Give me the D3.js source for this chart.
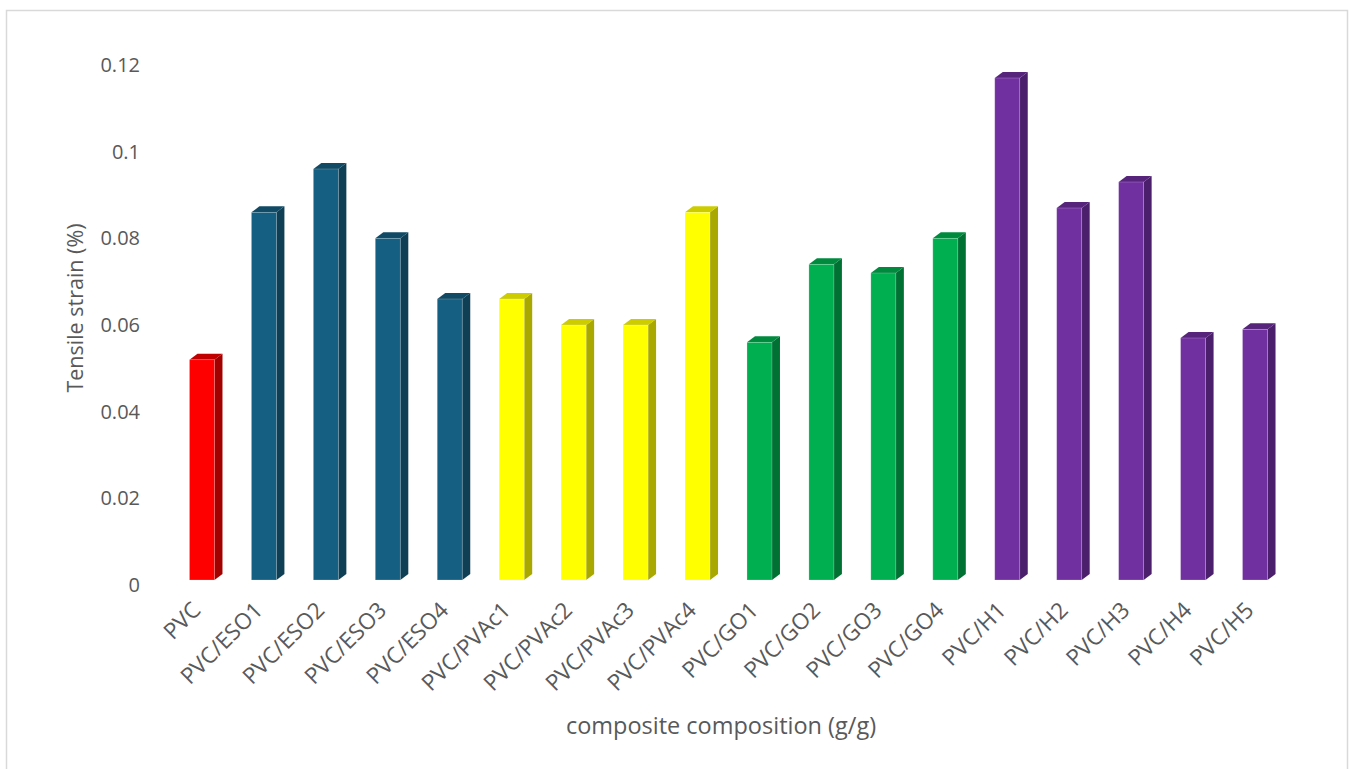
<!DOCTYPE html>
<html>
<head>
<meta charset="utf-8">
<script src="https://cdn.jsdelivr.net/npm/d3@7"></script>
<style>
  html, body { margin: 0; padding: 0; background: #fff; }
  svg { display: block; font-family: "Open Sans", "Noto Sans", sans-serif; }
</style>
</head>
<body>
<svg id="chart" width="1354" height="769"></svg>
<script>
// Tensile strain per composite formulation
const categories = [
  "PVC", "PVC/ESO1", "PVC/ESO2", "PVC/ESO3", "PVC/ESO4",
  "PVC/PVAc1", "PVC/PVAc2", "PVC/PVAc3", "PVC/PVAc4",
  "PVC/GO1", "PVC/GO2", "PVC/GO3", "PVC/GO4",
  "PVC/H1", "PVC/H2", "PVC/H3", "PVC/H4", "PVC/H5"
];
const values = [
  0.052, 0.086, 0.096, 0.080, 0.066,
  0.066, 0.060, 0.060, 0.086,
  0.056, 0.074, 0.072, 0.080,
  0.117, 0.087, 0.093, 0.057, 0.059
];
// additive family of each formulation
const groups = [
  "PVC", "ESO", "ESO", "ESO", "ESO",
  "PVAc", "PVAc", "PVAc", "PVAc",
  "GO", "GO", "GO", "GO",
  "H", "H", "H", "H", "H"
];
const yTicks = [0, 0.02, 0.04, 0.06, 0.08, 0.1, 0.12];

// front / top / side shades for each family
const palette = {
  PVC:  { front: "#FF0000", top: "#C00000", side: "#A30000" },
  ESO:  { front: "#156082", top: "#104A64", side: "#0E3F55" },
  PVAc: { front: "#FFFF00", top: "#CCCC00", side: "#A8A800" },
  GO:   { front: "#00B050", top: "#008A3E", side: "#007033" },
  H:    { front: "#7030A0", top: "#56247B", side: "#4B1F6B" }
};

const svg = d3.select("#chart");
const W = 1354, H = 769;

// outer frame
svg.append("rect")
  .attr("x", 6.5).attr("y", 10.5)
  .attr("width", W - 13).attr("height", H)
  .attr("fill", "#fff").attr("stroke", "#d9d9d9").attr("stroke-width", 1.5);

const x = d3.scalePoint().domain(categories).range([171, 1286]).padding(0.5);
const y = d3.scaleLinear().domain([0, 0.12]).range([585, 65]);

const barW = 25;      // front face width
const depthX = 8;     // 3D depth offset
const depthY = 6;
const floorY = y(0) - 5;

// value axis labels
const yAxis = d3.axisLeft(y).tickValues(yTicks).tickSize(0).tickPadding(0)
  .tickFormat(d => d3.format("~g")(d));
const gy = svg.append("g").attr("transform", "translate(140,0)").call(yAxis);
gy.select(".domain").remove();
gy.selectAll("text")
  .attr("fill", "#595959")
  .style("font-size", "20px")
  .style("font-family", "'Open Sans', sans-serif");

// bars
const bars = svg.append("g").selectAll("g.bar")
  .data(categories.map((c, i) => ({ c, v: values[i], g: groups[i] })))
  .join("g").attr("class", "bar");

bars.each(function(d) {
  const g = d3.select(this);
  const col = palette[d.g];
  const x0 = x(d.c) - barW / 2, x1 = x0 + barW;
  const yt = y(d.v), yb = floorY;
  // side face
  g.append("polygon")
    .attr("points", [[x1, yt], [x1 + depthX, yt - depthY], [x1 + depthX, yb - depthY], [x1, yb]].join(" "))
    .attr("fill", col.side);
  // top face
  g.append("polygon")
    .attr("points", [[x0, yt], [x0 + depthX, yt - depthY], [x1 + depthX, yt - depthY], [x1, yt]].join(" "))
    .attr("fill", col.top);
  // front face
  g.append("rect")
    .attr("x", x0).attr("y", yt)
    .attr("width", barW).attr("height", yb - yt)
    .attr("fill", col.front)
    .attr("stroke", "#ffffff").attr("stroke-opacity", 0.25).attr("stroke-width", 0.8);
});

// category labels, rotated
const xAxis = d3.axisBottom(x).tickSize(0).tickPadding(0);
const gx = svg.append("g").attr("transform", "translate(0,598)").call(xAxis);
gx.select(".domain").remove();
gx.selectAll("text")
  .attr("fill", "#595959")
  .style("font-size", "22.5px")
  .style("font-family", "'Open Sans', sans-serif")
  .attr("text-anchor", "end")
  .attr("dy", "0.35em")
  .attr("transform", "translate(-6,8) rotate(-45)");

// axis titles
svg.append("text")
  .attr("x", 721).attr("y", 734)
  .attr("text-anchor", "middle")
  .attr("fill", "#595959")
  .style("font-size", "23.5px")
  .text("composite composition (g/g)");

svg.append("text")
  .attr("transform", "translate(83,308) rotate(-90)")
  .attr("text-anchor", "middle")
  .attr("fill", "#595959")
  .style("font-size", "21.5px")
  .text("Tensile strain (%)");
</script>
</body>
</html>
